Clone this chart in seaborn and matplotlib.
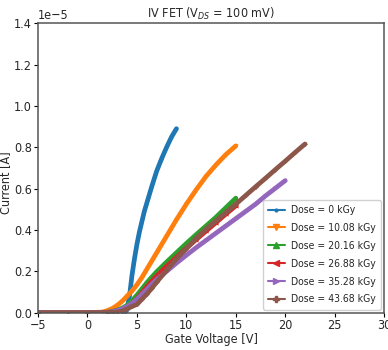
import matplotlib
matplotlib.use("Agg")
import matplotlib.pyplot as plt
from matplotlib.lines import Line2D
import seaborn as sns

# Gate voltage sweeps [V] and drain current [1e-5 A] for each dose
v_0 = [-5, -2, 0, 2, 3, 3.5, 3.75, 3.9, 4.0, 4.25, 4.5, 4.75, 5.0, 5.25, 5.5,
       5.75, 6.0, 6.5, 7.0, 7.5, 8.0, 8.5, 9.0]
i_0 = [0, 0, 0, 0, 0, 0, 0, 0.003, 0.02, 0.08, 0.18, 0.26, 0.33, 0.39, 0.44,
       0.49, 0.53, 0.61, 0.685, 0.745, 0.80, 0.85, 0.89]

v_10 = [-5, 0, 1.5, 2, 2.5, 3, 3.5, 4, 4.5, 5, 5.5, 6, 6.5, 7, 7.5, 8, 9, 10,
        11, 12, 13, 14, 15]
i_10 = [0, 0, 0.003, 0.01, 0.02, 0.035, 0.055, 0.08, 0.105, 0.135, 0.17, 0.21,
        0.25, 0.29, 0.33, 0.37, 0.45, 0.525, 0.595, 0.66, 0.715, 0.765, 0.807]

v_20 = [-5, 0, 2, 2.5, 3, 3.5, 4, 4.5, 5, 5.5, 6, 6.5, 7, 8, 9, 10, 11, 12,
        13, 14, 15]
i_20 = [0, 0, 0.002, 0.006, 0.012, 0.022, 0.035, 0.058, 0.085, 0.115, 0.145,
        0.172, 0.198, 0.245, 0.29, 0.335, 0.378, 0.42, 0.462, 0.508, 0.554]

v_27 = [-5, 0, 2, 2.5, 3, 3.5, 4, 4.5, 5, 5.5, 6, 6.5, 7, 8, 9, 10, 11, 12,
        13, 14, 15]
i_27 = [0, 0, 0.001, 0.003, 0.007, 0.014, 0.025, 0.043, 0.067, 0.095, 0.125,
        0.152, 0.178, 0.224, 0.268, 0.312, 0.354, 0.395, 0.436, 0.477, 0.517]

v_35 = [-5, 0, 2, 2.5, 3, 3.5, 4, 4.5, 5, 5.5, 6, 6.5, 7, 8, 9, 10, 11, 12,
        13, 14, 15, 16, 17, 18, 19, 20]
i_35 = [0, 0, 0.002, 0.005, 0.01, 0.018, 0.03, 0.045, 0.065, 0.088, 0.112,
        0.137, 0.16, 0.2, 0.24, 0.278, 0.315, 0.35, 0.385, 0.42, 0.455, 0.49,
        0.525, 0.565, 0.602, 0.639]

v_44 = [-5, 0, 2, 3, 3.5, 4, 4.5, 5, 5.5, 6, 6.5, 7, 8, 9, 10, 11, 12, 13,
        14, 15, 16, 17, 18, 19, 20, 21, 22]
i_44 = [0, 0, 0.001, 0.003, 0.007, 0.018, 0.03, 0.04, 0.065, 0.09, 0.118,
        0.148, 0.205, 0.26, 0.31, 0.36, 0.405, 0.445, 0.485, 0.525, 0.567,
        0.609, 0.65, 0.692, 0.733, 0.775, 0.816]

labels = ["Dose = 0 kGy", "Dose = 10.08 kGy", "Dose = 20.16 kGy",
          "Dose = 26.88 kGy", "Dose = 35.28 kGy", "Dose = 43.68 kGy"]
series = [(v_0, i_0), (v_10, i_10), (v_20, i_20), (v_27, i_27),
          (v_35, i_35), (v_44, i_44)]
markers = [".", "v", "^", "<", ">", "P"]
x_ticks = [-5, 0, 5, 10, 15, 20, 25, 30]
y_ticks = [0.0, 0.2, 0.4, 0.6, 0.8, 1.0, 1.2, 1.4]

sns.set_style("white")
plt.rcParams["font.family"] = ["DejaVu Sans"]
plt.rcParams["font.stretch"] = "condensed"

colors = sns.color_palette("tab10", 6)

fig = plt.figure(figsize=(3.88, 3.5), dpi=100)
ax = fig.add_axes([0.098, 0.1066, 0.892, 0.827])

for (v, cur), col, mk in zip(series, colors, markers):
    sns.lineplot(x=list(v), y=[c * 1e-5 for c in cur], ax=ax, color=col,
                 marker=mk, markersize=3, markeredgewidth=0, linewidth=3.4,
                 solid_capstyle="round", legend=False)

ax.set_xlim(-5, 30)
ax.set_ylim(0, 1.4e-5)
ax.set_xticks(x_ticks)
ax.set_yticks([t * 1e-5 for t in y_ticks])
ax.tick_params(axis="both", which="major", labelsize=9, length=3, width=0.8,
               color="black", bottom=True, left=True, pad=1.5)
ax.yaxis.get_offset_text().set_fontsize(9)
for s in ax.spines.values():
    s.set_color("#555555")
    s.set_linewidth(1.1)

ax.set_title("IV FET (V$_{DS}$ = 100 mV)", fontsize=9, pad=4)
ax.set_xlabel("Gate Voltage [V]", fontsize=9, labelpad=1)
ax.set_ylabel("Current [A]", fontsize=9, labelpad=0)
ax.yaxis.set_label_coords(-0.075, 0.45)

handles = [Line2D([0], [0], color=c, marker=m, markersize=4, linewidth=1.5)
           for c, m in zip(colors, markers)]
ax.legend(handles, labels, loc="lower right", fontsize=7.5, frameon=True,
          fancybox=True, framealpha=0.9, edgecolor="#cccccc",
          handlelength=1.6, handletextpad=0.6, labelspacing=0.75,
          borderaxespad=0.3, borderpad=0.5)

fig.savefig("out.png", dpi=100)
